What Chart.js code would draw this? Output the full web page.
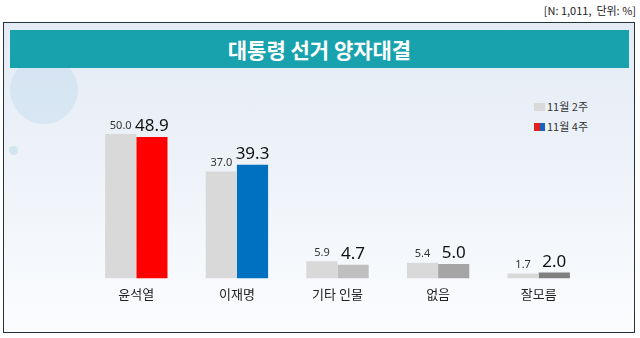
<!DOCTYPE html>
<html>
<head>
<meta charset="utf-8">
<script src="https://cdn.jsdelivr.net/npm/chart.js@4"></script>
<style>
  html, body { margin: 0; padding: 0; }
  body {
    width: 640px; height: 338px; position: relative; overflow: hidden;
    background: #ffffff;
    font-family: "Noto Sans CJK KR", "Noto Sans", sans-serif;
  }
  #note {
    position: absolute; right: 4px; top: 2px;
    font-size: 11px; color: #222;
  }
  #box {
    position: absolute; left: 3px; top: 22px; width: 630px; height: 309px;
    border: 1.5px solid #25323a;
    background: linear-gradient(#e4ebf5, #f1f5fa 60%, #fbfcfe);
  }
  #head {
    position: absolute; left: 10px; top: 30px; width: 619px; height: 38px;
    background: #17a2ad;
    color: #fff; font-size: 21px; font-weight: bold;
    text-align: center; line-height: 38px;
  }
  #deco {
    position: absolute; left: 10px; top: 56px; width: 68px; height: 68px;
    border-radius: 50%; background: rgba(175, 210, 235, 0.3);
  }
  #deco2 {
    position: absolute; left: 9px; top: 146px; width: 9px; height: 9px;
    border-radius: 50%; background: rgba(175, 215, 225, 0.45);
  }
  #legend {
    position: absolute; left: 534px; top: 96px;
    font-size: 11px; color: #333; line-height: 20px;
  }
  #legend i { display: inline-block; width: 11px; height: 8px; margin-right: 2px; vertical-align: 0px; }
  #chartWrap { position: absolute; left: 86px; top: 60px; width: 503px; height: 260px; }
</style>
</head>
<body>
<div id="note">[N: 1,011,&nbsp; 단위: %]</div>
<div id="box"></div>
<div id="deco"></div>
<div id="deco2"></div>
<div id="head">대통령 선거 양자대결</div>
<div id="legend">
  <div><i style="background:#d9d9d9"></i>11월 2주</div>
  <div><i style="background:linear-gradient(90deg,#e0201b 50%,#1f5fbf 50%)"></i>11월 4주</div>
</div>
<div id="chartWrap"><canvas id="chart"></canvas></div>

<script>
// 대통령 선거 양자대결 (11월 2주 / 4주)
const categories = ["윤석열", "이재명", "기타 인물", "없음", "잘모름"];
const week2 = [50.0, 37.0, 5.9, 5.4, 1.7];
const week4 = [48.9, 39.3, 4.7, 5.0, 2.0];
const seriesNames = ["11월 2주", "11월 4주"];

const week2Color = "#d9d9d9";
const week4Colors = ["#ff0000", "#0070c0", "#bfbfbf", "#a5a5a5", "#808080"];

// 막대 위 수치 표시
const valueLabels = {
    id: "valueLabels",
    afterDatasetsDraw(chart) {
        const ctx = chart.ctx;
        ctx.save();
        ctx.textAlign = "center";
        ctx.textBaseline = "bottom";
        chart.data.datasets.forEach((ds, i) => {
            const meta = chart.getDatasetMeta(i);
            meta.data.forEach((bar, j) => {
                if (i === 0) {
                    ctx.font = "11px 'Noto Sans', sans-serif";
                    ctx.fillStyle = "#333";
                    ctx.fillText(ds.data[j].toFixed(1), bar.x, bar.y - 3);
                } else {
                    ctx.font = "17px 'Noto Sans', sans-serif";
                    ctx.fillStyle = "#111";
                    ctx.fillText(ds.data[j].toFixed(1), bar.x, bar.y - 2);
                }
            });
        });
        ctx.restore();
    }
};

new Chart(document.getElementById("chart"), {
    type: "bar",
    data: {
        labels: categories,
        datasets: [
            { label: seriesNames[0], data: week2, backgroundColor: week2Color },
            { label: seriesNames[1], data: week4, backgroundColor: week4Colors }
        ]
    },
    options: {
        responsive: true,
        maintainAspectRatio: false,
        animation: false,
        layout: { padding: { top: 45, bottom: 10, left: 0, right: 0 } },
        datasets: { bar: { categoryPercentage: 0.62, barPercentage: 1.0 } },
        plugins: { legend: { display: false }, tooltip: { enabled: false } },
        scales: {
            x: {
                grid: { display: false, drawTicks: false },
                border: { display: false },
                ticks: { color: "#222", padding: 8, font: { size: 13, family: "'Noto Sans CJK KR', sans-serif" } }
            },
            y: { display: false, min: 0, max: 60 }
        }
    },
    plugins: [valueLabels]
});
</script>
</body>
</html>
